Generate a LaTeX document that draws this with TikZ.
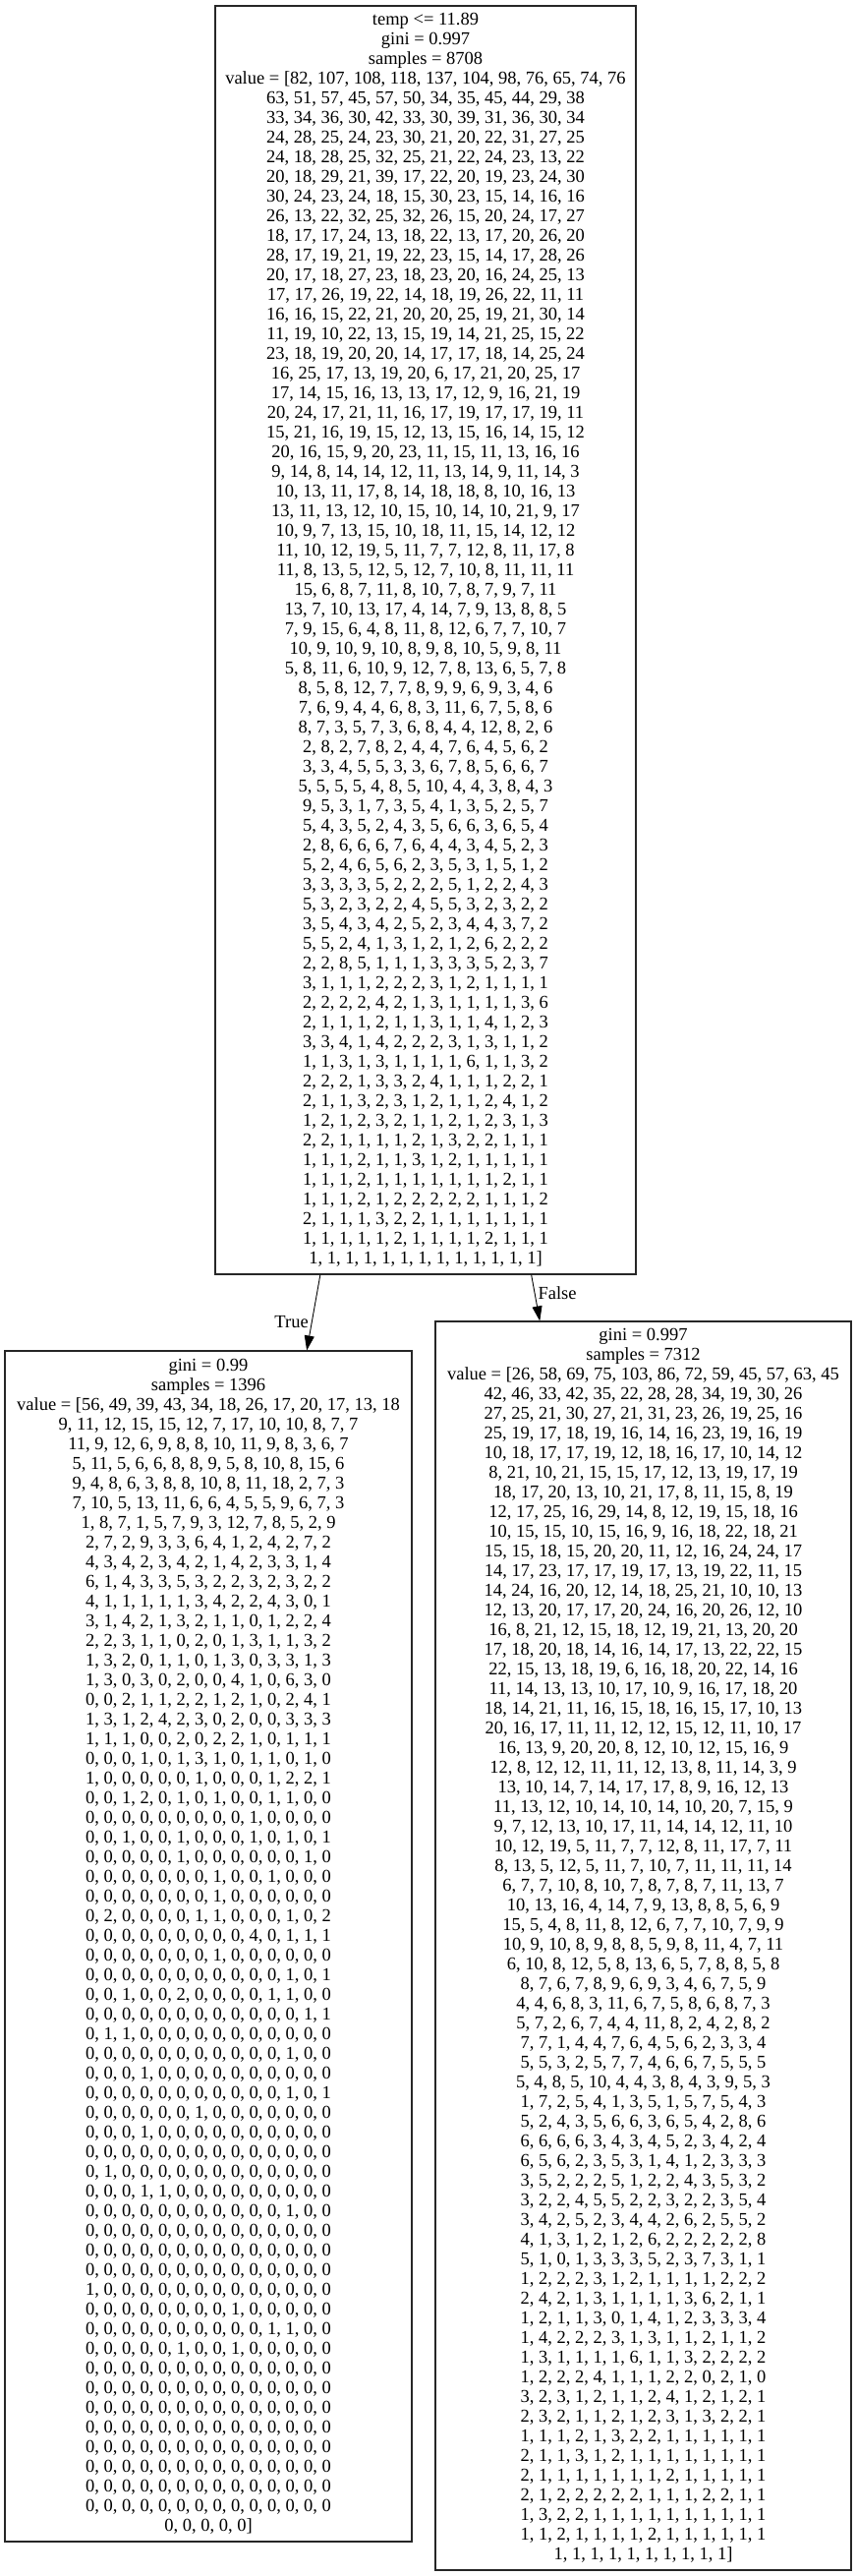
\documentclass[tikz,border=0pt]{standalone}
\usepackage{fontspec}
\setmainfont{Liberation Serif}
\usetikzlibrary{arrows.meta}

\begin{document}
\begin{tikzpicture}[x=1pt, y=-1pt,
  treebox/.style={draw=black!85, line width=1.1pt, align=center, inner sep=0pt, font=\fontsize{18.5}{20}\selectfont},
  edge/.style={-{Triangle[length=15pt, width=10pt]}, line width=0.9pt},
  edgelabel/.style={font=\fontsize{18.5}{20}\selectfont, inner sep=3pt}]

% Page
\useasboundingbox[fill=white] (0,0) rectangle (871,2620);

% Root split
\node[treebox, minimum width=428pt, minimum height=1290pt] (root) at (433,651) {temp <= 11.89\\gini = 0.997\\samples = 8708\\
value = [82, 107, 108, 118, 137, 104, 98, 76, 65, 74, 76\\
63, 51, 57, 45, 57, 50, 34, 35, 45, 44, 29, 38\\
33, 34, 36, 30, 42, 33, 30, 39, 31, 36, 30, 34\\
24, 28, 25, 24, 23, 30, 21, 20, 22, 31, 27, 25\\
24, 18, 28, 25, 32, 25, 21, 22, 24, 23, 13, 22\\
20, 18, 29, 21, 39, 17, 22, 20, 19, 23, 24, 30\\
30, 24, 23, 24, 18, 15, 30, 23, 15, 14, 16, 16\\
26, 13, 22, 32, 25, 32, 26, 15, 20, 24, 17, 27\\
18, 17, 17, 24, 13, 18, 22, 13, 17, 20, 26, 20\\
28, 17, 19, 21, 19, 22, 23, 15, 14, 17, 28, 26\\
20, 17, 18, 27, 23, 18, 23, 20, 16, 24, 25, 13\\
17, 17, 26, 19, 22, 14, 18, 19, 26, 22, 11, 11\\
16, 16, 15, 22, 21, 20, 20, 25, 19, 21, 30, 14\\
11, 19, 10, 22, 13, 15, 19, 14, 21, 25, 15, 22\\
23, 18, 19, 20, 20, 14, 17, 17, 18, 14, 25, 24\\
16, 25, 17, 13, 19, 20, 6, 17, 21, 20, 25, 17\\
17, 14, 15, 16, 13, 13, 17, 12, 9, 16, 21, 19\\
20, 24, 17, 21, 11, 16, 17, 19, 17, 17, 19, 11\\
15, 21, 16, 19, 15, 12, 13, 15, 16, 14, 15, 12\\
20, 16, 15, 9, 20, 23, 11, 15, 11, 13, 16, 16\\
9, 14, 8, 14, 14, 12, 11, 13, 14, 9, 11, 14, 3\\
10, 13, 11, 17, 8, 14, 18, 18, 8, 10, 16, 13\\
13, 11, 13, 12, 10, 15, 10, 14, 10, 21, 9, 17\\
10, 9, 7, 13, 15, 10, 18, 11, 15, 14, 12, 12\\
11, 10, 12, 19, 5, 11, 7, 7, 12, 8, 11, 17, 8\\
11, 8, 13, 5, 12, 5, 12, 7, 10, 8, 11, 11, 11\\
15, 6, 8, 7, 11, 8, 10, 7, 8, 7, 9, 7, 11\\
13, 7, 10, 13, 17, 4, 14, 7, 9, 13, 8, 8, 5\\
7, 9, 15, 6, 4, 8, 11, 8, 12, 6, 7, 7, 10, 7\\
10, 9, 10, 9, 10, 8, 9, 8, 10, 5, 9, 8, 11\\
5, 8, 11, 6, 10, 9, 12, 7, 8, 13, 6, 5, 7, 8\\
8, 5, 8, 12, 7, 7, 8, 9, 9, 6, 9, 3, 4, 6\\
7, 6, 9, 4, 4, 6, 8, 3, 11, 6, 7, 5, 8, 6\\
8, 7, 3, 5, 7, 3, 6, 8, 4, 4, 12, 8, 2, 6\\
2, 8, 2, 7, 8, 2, 4, 4, 7, 6, 4, 5, 6, 2\\
3, 3, 4, 5, 5, 3, 3, 6, 7, 8, 5, 6, 6, 7\\
5, 5, 5, 5, 4, 8, 5, 10, 4, 4, 3, 8, 4, 3\\
9, 5, 3, 1, 7, 3, 5, 4, 1, 3, 5, 2, 5, 7\\
5, 4, 3, 5, 2, 4, 3, 5, 6, 6, 3, 6, 5, 4\\
2, 8, 6, 6, 6, 7, 6, 4, 4, 3, 4, 5, 2, 3\\
5, 2, 4, 6, 5, 6, 2, 3, 5, 3, 1, 5, 1, 2\\
3, 3, 3, 3, 5, 2, 2, 2, 5, 1, 2, 2, 4, 3\\
5, 3, 2, 3, 2, 2, 4, 5, 5, 3, 2, 3, 2, 2\\
3, 5, 4, 3, 4, 2, 5, 2, 3, 4, 4, 3, 7, 2\\
5, 5, 2, 4, 1, 3, 1, 2, 1, 2, 6, 2, 2, 2\\
2, 2, 8, 5, 1, 1, 1, 3, 3, 3, 5, 2, 3, 7\\
3, 1, 1, 1, 2, 2, 2, 3, 1, 2, 1, 1, 1, 1\\
2, 2, 2, 2, 4, 2, 1, 3, 1, 1, 1, 1, 3, 6\\
2, 1, 1, 1, 2, 1, 1, 3, 1, 1, 4, 1, 2, 3\\
3, 3, 4, 1, 4, 2, 2, 2, 3, 1, 3, 1, 1, 2\\
1, 1, 3, 1, 3, 1, 1, 1, 1, 6, 1, 1, 3, 2\\
2, 2, 2, 1, 3, 3, 2, 4, 1, 1, 1, 2, 2, 1\\
2, 1, 1, 3, 2, 3, 1, 2, 1, 1, 2, 4, 1, 2\\
1, 2, 1, 2, 3, 2, 1, 1, 2, 1, 2, 3, 1, 3\\
2, 2, 1, 1, 1, 1, 2, 1, 3, 2, 2, 1, 1, 1\\
1, 1, 1, 2, 1, 1, 3, 1, 2, 1, 1, 1, 1, 1\\
1, 1, 1, 2, 1, 1, 1, 1, 1, 1, 1, 2, 1, 1\\
1, 1, 1, 2, 1, 2, 2, 2, 2, 2, 1, 1, 1, 2\\
2, 1, 1, 1, 3, 2, 2, 1, 1, 1, 1, 1, 1, 1\\
1, 1, 1, 1, 1, 2, 1, 1, 1, 1, 2, 1, 1, 1\\
1, 1, 1, 1, 1, 1, 1, 1, 1, 1, 1, 1, 1]};

% Left leaf (True)
\node[treebox, minimum width=414pt, minimum height=1211pt] (left) at (212,1979.5) {gini = 0.99\\samples = 1396\\
value = [56, 49, 39, 43, 34, 18, 26, 17, 20, 17, 13, 18\\
9, 11, 12, 15, 15, 12, 7, 17, 10, 10, 8, 7, 7\\
11, 9, 12, 6, 9, 8, 8, 10, 11, 9, 8, 3, 6, 7\\
5, 11, 5, 6, 6, 8, 8, 9, 5, 8, 10, 8, 15, 6\\
9, 4, 8, 6, 3, 8, 8, 10, 8, 11, 18, 2, 7, 3\\
7, 10, 5, 13, 11, 6, 6, 4, 5, 5, 9, 6, 7, 3\\
1, 8, 7, 1, 5, 7, 9, 3, 12, 7, 8, 5, 2, 9\\
2, 7, 2, 9, 3, 3, 6, 4, 1, 2, 4, 2, 7, 2\\
4, 3, 4, 2, 3, 4, 2, 1, 4, 2, 3, 3, 1, 4\\
6, 1, 4, 3, 3, 5, 3, 2, 2, 3, 2, 3, 2, 2\\
4, 1, 1, 1, 1, 1, 3, 4, 2, 2, 4, 3, 0, 1\\
3, 1, 4, 2, 1, 3, 2, 1, 1, 0, 1, 2, 2, 4\\
2, 2, 3, 1, 1, 0, 2, 0, 1, 3, 1, 1, 3, 2\\
1, 3, 2, 0, 1, 1, 0, 1, 3, 0, 3, 3, 1, 3\\
1, 3, 0, 3, 0, 2, 0, 0, 4, 1, 0, 6, 3, 0\\
0, 0, 2, 1, 1, 2, 2, 1, 2, 1, 0, 2, 4, 1\\
1, 3, 1, 2, 4, 2, 3, 0, 2, 0, 0, 3, 3, 3\\
1, 1, 1, 0, 0, 2, 0, 2, 2, 1, 0, 1, 1, 1\\
0, 0, 0, 1, 0, 1, 3, 1, 0, 1, 1, 0, 1, 0\\
1, 0, 0, 0, 0, 0, 1, 0, 0, 0, 1, 2, 2, 1\\
0, 0, 1, 2, 0, 1, 0, 1, 0, 0, 1, 1, 0, 0\\
0, 0, 0, 0, 0, 0, 0, 0, 0, 1, 0, 0, 0, 0\\
0, 0, 1, 0, 0, 1, 0, 0, 0, 1, 0, 1, 0, 1\\
0, 0, 0, 0, 0, 1, 0, 0, 0, 0, 0, 0, 1, 0\\
0, 0, 0, 0, 0, 0, 0, 1, 0, 0, 1, 0, 0, 0\\
0, 0, 0, 0, 0, 0, 0, 1, 0, 0, 0, 0, 0, 0\\
0, 2, 0, 0, 0, 0, 1, 1, 0, 0, 0, 1, 0, 2\\
0, 0, 0, 0, 0, 0, 0, 0, 0, 4, 0, 1, 1, 1\\
0, 0, 0, 0, 0, 0, 0, 1, 0, 0, 0, 0, 0, 0\\
0, 0, 0, 0, 0, 0, 0, 0, 0, 0, 0, 1, 0, 1\\
0, 0, 1, 0, 0, 2, 0, 0, 0, 0, 1, 1, 0, 0\\
0, 0, 0, 0, 0, 0, 0, 0, 0, 0, 0, 0, 1, 1\\
0, 1, 1, 0, 0, 0, 0, 0, 0, 0, 0, 0, 0, 0\\
0, 0, 0, 0, 0, 0, 0, 0, 0, 0, 0, 1, 0, 0\\
0, 0, 0, 1, 0, 0, 0, 0, 0, 0, 0, 0, 0, 0\\
0, 0, 0, 0, 0, 0, 0, 0, 0, 0, 0, 1, 0, 1\\
0, 0, 0, 0, 0, 0, 1, 0, 0, 0, 0, 0, 0, 0\\
0, 0, 0, 1, 0, 0, 0, 0, 0, 0, 0, 0, 0, 0\\
0, 0, 0, 0, 0, 0, 0, 0, 0, 0, 0, 0, 0, 0\\
0, 1, 0, 0, 0, 0, 0, 0, 0, 0, 0, 0, 0, 0\\
0, 0, 0, 1, 1, 0, 0, 0, 0, 0, 0, 0, 0, 0\\
0, 0, 0, 0, 0, 0, 0, 0, 0, 0, 0, 1, 0, 0\\
0, 0, 0, 0, 0, 0, 0, 0, 0, 0, 0, 0, 0, 0\\
0, 0, 0, 0, 0, 0, 0, 0, 0, 0, 0, 0, 0, 0\\
0, 0, 0, 0, 0, 0, 0, 0, 0, 0, 0, 0, 0, 0\\
1, 0, 0, 0, 0, 0, 0, 0, 0, 0, 0, 0, 0, 0\\
0, 0, 0, 0, 0, 0, 0, 0, 1, 0, 0, 0, 0, 0\\
0, 0, 0, 0, 0, 0, 0, 0, 0, 0, 1, 1, 0, 0\\
0, 0, 0, 0, 0, 1, 0, 0, 1, 0, 0, 0, 0, 0\\
0, 0, 0, 0, 0, 0, 0, 0, 0, 0, 0, 0, 0, 0\\
0, 0, 0, 0, 0, 0, 0, 0, 0, 0, 0, 0, 0, 0\\
0, 0, 0, 0, 0, 0, 0, 0, 0, 0, 0, 0, 0, 0\\
0, 0, 0, 0, 0, 0, 0, 0, 0, 0, 0, 0, 0, 0\\
0, 0, 0, 0, 0, 0, 0, 0, 0, 0, 0, 0, 0, 0\\
0, 0, 0, 0, 0, 0, 0, 0, 0, 0, 0, 0, 0, 0\\
0, 0, 0, 0, 0, 0, 0, 0, 0, 0, 0, 0, 0, 0\\
0, 0, 0, 0, 0, 0, 0, 0, 0, 0, 0, 0, 0, 0\\
0, 0, 0, 0, 0]};

% Right leaf (False)
\node[treebox, minimum width=423pt, minimum height=1270pt] (right) at (654.5,1979) {gini = 0.997\\samples = 7312\\
value = [26, 58, 69, 75, 103, 86, 72, 59, 45, 57, 63, 45\\
42, 46, 33, 42, 35, 22, 28, 28, 34, 19, 30, 26\\
27, 25, 21, 30, 27, 21, 31, 23, 26, 19, 25, 16\\
25, 19, 17, 18, 19, 16, 14, 16, 23, 19, 16, 19\\
10, 18, 17, 17, 19, 12, 18, 16, 17, 10, 14, 12\\
8, 21, 10, 21, 15, 15, 17, 12, 13, 19, 17, 19\\
18, 17, 20, 13, 10, 21, 17, 8, 11, 15, 8, 19\\
12, 17, 25, 16, 29, 14, 8, 12, 19, 15, 18, 16\\
10, 15, 15, 10, 15, 16, 9, 16, 18, 22, 18, 21\\
15, 15, 18, 15, 20, 20, 11, 12, 16, 24, 24, 17\\
14, 17, 23, 17, 17, 19, 17, 13, 19, 22, 11, 15\\
14, 24, 16, 20, 12, 14, 18, 25, 21, 10, 10, 13\\
12, 13, 20, 17, 17, 20, 24, 16, 20, 26, 12, 10\\
16, 8, 21, 12, 15, 18, 12, 19, 21, 13, 20, 20\\
17, 18, 20, 18, 14, 16, 14, 17, 13, 22, 22, 15\\
22, 15, 13, 18, 19, 6, 16, 18, 20, 22, 14, 16\\
11, 14, 13, 13, 10, 17, 10, 9, 16, 17, 18, 20\\
18, 14, 21, 11, 16, 15, 18, 16, 15, 17, 10, 13\\
20, 16, 17, 11, 11, 12, 12, 15, 12, 11, 10, 17\\
16, 13, 9, 20, 20, 8, 12, 10, 12, 15, 16, 9\\
12, 8, 12, 12, 11, 11, 12, 13, 8, 11, 14, 3, 9\\
13, 10, 14, 7, 14, 17, 17, 8, 9, 16, 12, 13\\
11, 13, 12, 10, 14, 10, 14, 10, 20, 7, 15, 9\\
9, 7, 12, 13, 10, 17, 11, 14, 14, 12, 11, 10\\
10, 12, 19, 5, 11, 7, 7, 12, 8, 11, 17, 7, 11\\
8, 13, 5, 12, 5, 11, 7, 10, 7, 11, 11, 11, 14\\
6, 7, 7, 10, 8, 10, 7, 8, 7, 8, 7, 11, 13, 7\\
10, 13, 16, 4, 14, 7, 9, 13, 8, 8, 5, 6, 9\\
15, 5, 4, 8, 11, 8, 12, 6, 7, 7, 10, 7, 9, 9\\
10, 9, 10, 8, 9, 8, 8, 5, 9, 8, 11, 4, 7, 11\\
6, 10, 8, 12, 5, 8, 13, 6, 5, 7, 8, 8, 5, 8\\
8, 7, 6, 7, 8, 9, 6, 9, 3, 4, 6, 7, 5, 9\\
4, 4, 6, 8, 3, 11, 6, 7, 5, 8, 6, 8, 7, 3\\
5, 7, 2, 6, 7, 4, 4, 11, 8, 2, 4, 2, 8, 2\\
7, 7, 1, 4, 4, 7, 6, 4, 5, 6, 2, 3, 3, 4\\
5, 5, 3, 2, 5, 7, 7, 4, 6, 6, 7, 5, 5, 5\\
5, 4, 8, 5, 10, 4, 4, 3, 8, 4, 3, 9, 5, 3\\
1, 7, 2, 5, 4, 1, 3, 5, 1, 5, 7, 5, 4, 3\\
5, 2, 4, 3, 5, 6, 6, 3, 6, 5, 4, 2, 8, 6\\
6, 6, 6, 6, 3, 4, 3, 4, 5, 2, 3, 4, 2, 4\\
6, 5, 6, 2, 3, 5, 3, 1, 4, 1, 2, 3, 3, 3\\
3, 5, 2, 2, 2, 5, 1, 2, 2, 4, 3, 5, 3, 2\\
3, 2, 2, 4, 5, 5, 2, 2, 3, 2, 2, 3, 5, 4\\
3, 4, 2, 5, 2, 3, 4, 4, 2, 6, 2, 5, 5, 2\\
4, 1, 3, 1, 2, 1, 2, 6, 2, 2, 2, 2, 2, 8\\
5, 1, 0, 1, 3, 3, 3, 5, 2, 3, 7, 3, 1, 1\\
1, 2, 2, 2, 3, 1, 2, 1, 1, 1, 1, 2, 2, 2\\
2, 4, 2, 1, 3, 1, 1, 1, 1, 3, 6, 2, 1, 1\\
1, 2, 1, 1, 3, 0, 1, 4, 1, 2, 3, 3, 3, 4\\
1, 4, 2, 2, 2, 3, 1, 3, 1, 1, 2, 1, 1, 2\\
1, 3, 1, 1, 1, 1, 6, 1, 1, 3, 2, 2, 2, 2\\
1, 2, 2, 2, 4, 1, 1, 1, 2, 2, 0, 2, 1, 0\\
3, 2, 3, 1, 2, 1, 1, 2, 4, 1, 2, 1, 2, 1\\
2, 3, 2, 1, 1, 2, 1, 2, 3, 1, 3, 2, 2, 1\\
1, 1, 1, 2, 1, 3, 2, 2, 1, 1, 1, 1, 1, 1\\
2, 1, 1, 3, 1, 2, 1, 1, 1, 1, 1, 1, 1, 1\\
2, 1, 1, 1, 1, 1, 1, 1, 2, 1, 1, 1, 1, 1\\
2, 1, 2, 2, 2, 2, 2, 1, 1, 1, 2, 2, 1, 1\\
1, 3, 2, 2, 1, 1, 1, 1, 1, 1, 1, 1, 1, 1\\
1, 1, 2, 1, 1, 1, 1, 2, 1, 1, 1, 1, 1, 1\\
1, 1, 1, 1, 1, 1, 1, 1, 1, 1]};

% Edges
\draw[edge] (root) -- node[edgelabel, pos=0.63, left] {True} (left);
\draw[edge] (root) -- node[edgelabel, pos=0.4, right] {False} (right);

\end{tikzpicture}
\end{document}
